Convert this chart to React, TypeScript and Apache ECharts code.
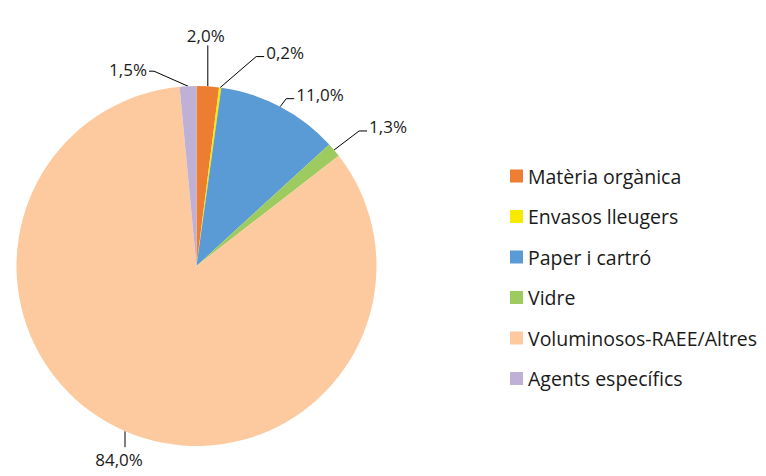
import React, { useEffect, useRef } from "react";
import * as echarts from "echarts";

const categories = [
  "Matèria orgànica",
  "Envasos lleugers",
  "Paper i cartró",
  "Vidre",
  "Voluminosos-RAEE/Altres",
  "Agents específics",
];
const values = [2.0, 0.2, 11.0, 1.3, 84.0, 1.5];
const colors = ["#ED7D31", "#F7E900", "#5B9BD5", "#9DCB5F", "#FDCA9F", "#BFB1D6"];

// leader-line styling: elbow offset from slice edge, horizontal run, label side
const leaders = [
  { dx: 0, dy: -41, run: 0, side: "top" },
  { dx: 36, dy: -31, run: 8, side: "right" },
  { dx: 6, dy: -8, run: 8, side: "right" },
  { dx: 25, dy: -19, run: 8, side: "right" },
  { dx: 0, dy: 16, run: 0, side: "bottom" },
  { dx: -34, dy: -15, run: -5, side: "left" },
];

const FONT = "'Open Sans', Lato, sans-serif";

export default function App() {
  const ref = useRef<HTMLDivElement>(null);
  useEffect(() => {
    if (!ref.current) return;
    const chart = echarts.init(ref.current, undefined, { renderer: "svg" });
    chart.setOption({
      animation: false,
      backgroundColor: "#ffffff",
      textStyle: { fontFamily: FONT },
      legend: {
        orient: "vertical",
        left: 510,
        top: 165,
        padding: 0,
        itemWidth: 13,
        itemHeight: 13,
        itemGap: 18.5,
        icon: "rect",
        textStyle: { fontSize: 19.5, color: "#1a1a1a", fontFamily: FONT, lineHeight: 22 },
        data: categories,
      },
      series: [
        {
          type: "pie",
          center: [196.5, 266],
          radius: [0, 180],
          startAngle: 90,
          clockwise: true,
          avoidLabelOverlap: false,
          itemStyle: { borderWidth: 0 },
          data: categories.map((name, i) => ({
            name,
            value: values[i],
            itemStyle: { color: colors[i] },
          })),
          label: {
            show: true,
            position: "outside",
            fontSize: 17,
            color: "#1a1a1a",
            fontFamily: FONT,
            formatter: (p: any) => p.value.toFixed(1).replace(".", ",") + "%",
          },
          labelLine: {
            show: true,
            length: 10,
            length2: 5,
            lineStyle: { color: "#000000", width: 1 },
          },
          labelLayout: (params: any) => {
            const i = params.dataIndex;
            const pts = params.labelLinePoints;
            if (!pts) return {};
            const p0 = pts[0];
            const L = leaders[i];
            const p1 = [p0[0] + L.dx, p0[1] + L.dy];
            const p2 = [p1[0] + L.run, p1[1]];
            let out: any = { labelLinePoints: [p0, p1, p2] };
            if (L.side === "top") {
              out = { ...out, x: p2[0] - 2, y: p2[1] - 1, align: "center", verticalAlign: "bottom" };
            } else if (L.side === "bottom") {
              out = { ...out, x: p2[0] - 6, y: p2[1] + 4, align: "center", verticalAlign: "top" };
            } else if (L.side === "right") {
              out = { ...out, x: p2[0] + 2, y: p2[1] - 4, align: "left", verticalAlign: "middle" };
            } else {
              out = { ...out, x: p2[0] - 2, y: p2[1] - 2, align: "right", verticalAlign: "middle" };
            }
            return out;
          },
        },
      ],
    });
    return () => chart.dispose();
  }, []);
  return (
    <div
      ref={ref}
      style={{ position: "fixed", left: 0, top: 0, width: 766, height: 476 }}
    />
  );
}
